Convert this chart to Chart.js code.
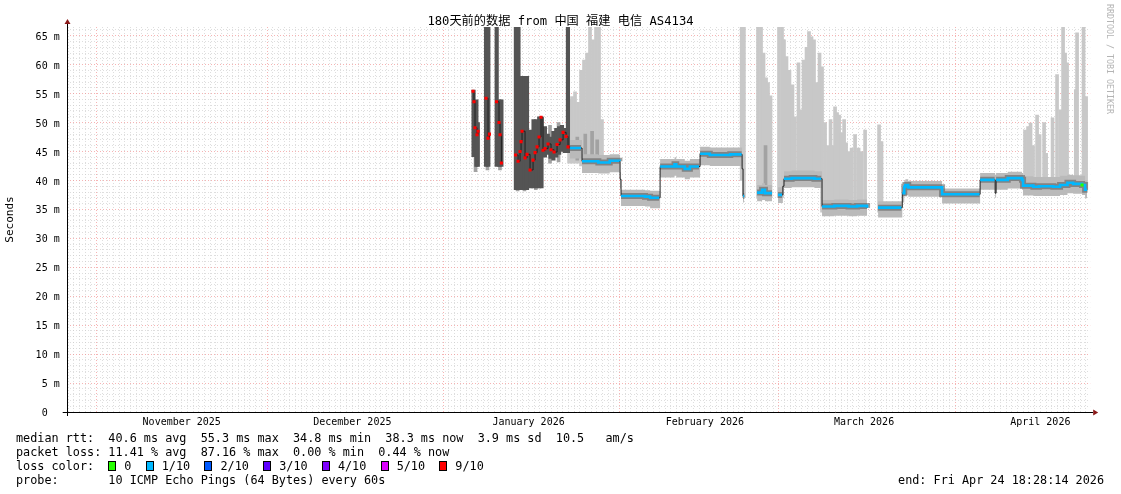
<!DOCTYPE html>
<html><head><meta charset="utf-8">
<script src="https://cdn.jsdelivr.net/npm/chart.js@4.4.1/dist/chart.umd.min.js"></script>
<style>
html,body{margin:0;padding:0;background:#fff;}
#wrap{position:relative;width:1121px;height:494px;overflow:hidden;background:#fff;}
canvas{position:absolute;left:0;top:0;}
.t{position:absolute;font-family:"DejaVu Sans Mono","Noto Sans CJK SC",monospace;color:#000;white-space:pre;}
#title{left:0;width:1121px;text-align:center;top:14px;font-size:12.2px;line-height:14px;}
#foot{left:16px;top:431px;font-size:11.8px;line-height:14px;}
#end{right:17px;top:473px;font-size:11.8px;line-height:14px;}
#wm{left:1105px;top:4px;font-size:8.3px;line-height:9px;color:#b4b4b4;writing-mode:vertical-rl;}
.box{display:inline-block;width:6px;height:8px;border:1px solid #000;vertical-align:-1px;margin-right:8px;}
.gap{display:inline-block;width:14.3px;}
</style></head>
<body>
<div id="wrap">
<canvas id="c" width="1121" height="494"></canvas>
<div class="t" id="title">180天前的数据 from 中国 福建 电信 AS4134</div>
<div class="t" id="wm">RRDTOOL / TOBI OETIKER</div>
<div class="t" id="foot"></div>
<div class="t" id="end">end: Fri Apr 24 18:28:14 2026</div>
</div>
<script>
// ---- time axis: days since window start (Oct 26 2025 18:28:14) ----
const firstMidnight = 0.2304;
const monthStartDays = [5, 35, 66, 97, 125, 156];
const monthLabelDays = [20.23, 50.23, 81.23, 112.23, 140.23, 171.23];
const monthLabels = ['November 2025','December 2025','January 2026','February 2026','March 2026','April 2026'];
const yTickMax = 66;

// ---- median rtt (ms), loss bucket, smoke band ----
const medT = [71.46,71.63,71.81,72.16,72.34,72.60,73.75,74.10,74.35,74.60,75.60,76.03,76.21,76.45,76.70,
 78.95,79.38,79.73,79.91,80.08,80.61,80.96,81.49,82.02,82.37,82.72,83.07,83.42,83.77,84.13,84.65,85.18,85.71,86.24,86.77,87.30,87.83,88.17,
 88.52,90.45,90.63,93.50,95.50,97.20,97.32,97.49,101.70,102.60,104.20,104.36,106.90,107.20,108.70,109.60,111.20,111.39,113.10,116.70,118.70,118.78,118.95,119.15,119.30,
 121.41,122.30,122.80,124.04,124.10,125.09,125.80,125.95,126.15,127.50,129.50,131.50,132.70,132.84,135.00,137.50,139.00,140.76,140.93,
 142.69,146.80,146.95,147.30,147.50,148.00,153.85,153.95,160.55,160.64,163.20,163.28,163.45,165.50,168.00,168.19,170.00,171.00,173.50,174.70,176.00,177.00,178.57,178.75,179.10,179.45];
const medV = [55.4,53.6,49.1,47.9,48.5,null,54.2,47.3,48.0,null,53.6,50.0,47.9,43.0,null,
 44.4,43.3,45.0,46.7,48.5,43.9,44.5,41.8,43.5,44.8,45.8,47.5,50.9,45.2,45.5,46.3,45.3,44.9,46.2,47.0,48.3,47.6,45.8,
 45.6,45.6,43.3,43.1,43.4,43.3,40.2,37.3,37.2,37.0,37.0,42.4,42.8,42.4,42.0,42.4,42.4,44.6,44.4,44.5,44.5,42.0,37.3,37.3,null,
 37.9,38.4,37.8,37.8,null,37.5,37.5,39.0,40.3,40.4,40.4,40.3,40.3,35.5,35.6,35.5,35.6,35.3,null,
 35.3,35.3,37.8,38.9,39.2,38.8,38.8,37.6,37.6,40.1,40.1,37.8,40.1,40.4,40.1,39.1,38.9,39.0,38.9,39.2,39.6,39.4,39.2,39.2,38.4,38.4];
const medLoss = [9,9,9,9,9,9,9,9,9,9,9,9,9,9,9,
 9,9,9,9,9,9,9,9,9,9,9,9,9,9,9,9,9,9,9,9,9,9,9,
 1,1,1,1,1,1,1,1,1,1,1,1,1,1,1,1,1,1,1,1,1,1,1,1,1,
 1,1,1,1,1,1,1,1,1,1,1,1,1,1,1,1,1,1,1,
 1,1,1,1,1,1,1,1,1,1,1,1,1,1,1,1,1,1,1,1,1,1,0,1,1,1];
const bandLo = [null,null,null,null,null,null,null,null,null,null,null,null,null,null,null,
 null,null,null,null,null,null,null,null,null,null,null,null,null,null,null,null,null,null,null,null,null,null,null,
 43.8,43.8,41.3,41.2,41.4,41.3,38.6,35.6,35.5,35.2,35.2,40.5,40.8,40.5,40.2,40.5,40.5,42.6,42.5,42.5,42.5,40.0,36.2,36.2,null,
 36.4,36.6,36.4,36.4,null,36.1,36.1,37.5,38.7,38.8,38.8,38.7,38.7,33.8,33.9,33.8,33.9,33.8,null,
 33.6,33.6,36.2,37.3,37.5,37.2,37.2,36.0,36.0,38.4,38.4,37.0,38.4,38.6,38.4,37.4,37.3,37.3,37.3,37.5,37.8,37.7,37.5,37.5,36.9,36.9];
const bandHi = [null,null,null,null,null,null,null,null,null,null,null,null,null,null,null,
 null,null,null,null,null,null,null,null,null,null,null,null,null,null,null,null,null,null,null,null,null,null,null,
 47.0,47.0,44.5,44.4,44.5,44.4,41.4,38.4,38.3,38.2,38.2,43.7,44.0,43.7,43.4,43.7,43.7,45.8,45.7,45.7,45.7,43.5,38.5,38.5,null,
 39.2,39.5,39.2,39.2,null,38.8,38.8,40.2,41.6,41.7,41.7,41.6,41.6,36.6,36.7,36.6,36.7,36.5,null,
 36.4,36.4,38.8,40.0,40.2,39.9,39.9,38.6,38.6,41.3,41.3,41.0,41.3,41.5,41.3,40.7,40.6,40.6,40.6,40.8,41.0,40.9,40.8,40.8,40.0,40.0];

// ---- outlier smoke spikes (ms) ----
const spikeT = [88.35,88.87,89.40,89.93,90.46,90.98,91.51,92.03,92.56,93.09,93.62,94.14,
 118.70,119.10,121.58,122.11,122.55,122.99,123.34,123.78,
 125.27,125.80,126.15,126.59,127.11,127.64,128.08,128.70,129.14,129.58,130.11,130.55,130.99,131.43,131.87,132.40,132.84,
 133.37,133.90,134.34,134.69,135.13,135.48,135.84,136.28,136.72,137.07,137.51,138.04,138.65,139.27,139.80,140.41,
 142.87,143.30,
 168.54,169.07,169.51,169.95,170.66,171.10,171.89,172.25,173.38,174.17,174.79,175.23,175.58,175.93,177.47,177.69,178.83,179.28];
const spikeLo = [43.0,43.0,43.0,43.0,42.5,42.0,42.0,42.0,42.0,42.0,42.0,42.0,
 40.0,37.0,37.0,37.0,37.0,37.0,37.0,37.0,
 37.0,37.0,39.0,39.0,39.0,39.0,39.0,39.0,39.0,39.0,39.0,39.0,39.0,39.0,39.0,39.0,34.5,
 34.5,34.5,34.5,34.5,34.5,34.5,34.5,34.5,34.5,34.5,34.5,34.5,34.5,34.5,34.5,34.5,
 34.5,34.5,
 38.0,38.0,38.0,38.0,38.0,38.0,38.0,38.0,38.0,38.0,38.0,38.0,38.0,38.0,38.0,38.0,38.0,38.0];
const spikeHi = [54.0,54.5,55.3,53.5,59.0,60.8,62.0,66.5,64.3,66.5,66.5,50.5,
 66.5,66.5,66.5,66.5,62.0,57.7,56.9,54.6,
 66.5,66.5,64.3,61.4,59.0,56.5,51.0,60.3,52.2,60.8,63.0,65.7,64.8,64.3,56.9,62.0,59.6,
 50.0,46.0,50.5,46.0,52.7,51.7,51.3,48.2,50.5,46.5,45.0,45.6,47.9,45.6,45.0,48.7,
 49.6,46.7,
 48.7,49.3,49.9,46.0,51.3,47.9,50.0,44.7,50.8,58.3,52.2,66.5,62.0,60.3,55.7,65.5,66.5,54.5];

// ---- mid-grey smoke in the lossy period and a few denser outliers (ms) ----
const midT = [71.9,74.0,76.2,79.3,80.5,82.5,85.0,86.5,89.8,91.2,92.4,93.3,122.9];
const midLo = [41.5,41.8,41.8,38.2,38.2,38.4,43.0,43.2,43.5,43.0,43.0,43.0,37.5];
const midHi = [52.0,50.0,50.0,50.0,50.0,49.0,49.5,50.0,47.5,48.0,48.5,47.0,46.0];

// ---- high-loss period smoke (ms) ----
const darkT = [71.55,72.05,72.30,73.75,74.15,75.62,76.10,76.45,79.00,79.45,79.95,80.45,80.95,81.60,82.10,82.60,83.10,83.50,
 84.10,84.60,85.10,85.60,86.10,86.60,87.10,87.60,88.15];
const darkLo = [44.1,42.4,42.4,42.4,42.4,42.4,42.4,42.4,38.4,38.4,38.4,38.4,38.4,38.7,38.7,38.7,38.7,38.7,
 44.0,44.5,43.8,43.5,44.0,44.5,45.0,44.8,44.8];
const darkHi = [55.6,53.9,50.0,66.5,66.5,66.5,53.9,53.9,66.5,66.5,58.0,58.0,58.0,48.7,50.5,50.5,51.0,51.0,
 49.3,48.0,47.5,48.5,49.0,49.3,49.5,49.0,66.5];

const lossColors = {0:'#26ff00',1:'#00b8ff',2:'#0059ff',3:'#5e00ff',4:'#7e00ff',5:'#dd00ff',9:'#ff0000'};
const legendItems = [['0',0],['1/10',1],['2/10',2],['3/10',3],['4/10',4],['5/10',5],['9/10',9]];

// ---- footer text ----
const foot = document.getElementById('foot');
let html = 'median rtt:  40.6 ms avg  55.3 ms max  34.8 ms min  38.3 ms now  3.9 ms sd  10.5   am/s\n';
html += 'packet loss: 11.41 % avg  87.16 % max  0.00 % min  0.44 % now\n';
html += 'loss color:  ' + legendItems.map(([l,k],i)=>'<span class="box" style="background:'+lossColors[k]+'"></span>'+l+(i<legendItems.length-1?'<span class="gap"></span>':'')).join('') + '\n';
html += 'probe:       10 ICMP Echo Pings (64 Bytes) every 60s';
foot.innerHTML = html;

// ---- ticks ----
const xTicks = [];
for (let k = 0; k < 180; k++) {
  const isMonth = monthStartDays.includes(k);
  xTicks.push({value: firstMidnight + k, kind: isMonth ? 'month' : 'day', text: ''});
}
monthLabelDays.forEach((d,i)=>xTicks.push({value:d, kind:'label', text:monthLabels[i]}));
xTicks.sort((a,b)=>a.value-b.value);
const yTicks = [];
for (let v = 0; v <= yTickMax; v++) yTicks.push({value:v});

const MINOR = 'rgba(200,200,200,0.6)';
const MAJOR = 'rgba(240,130,130,0.6)';
const CLEAR = 'rgba(0,0,0,0)';

const pts = ys => medT.map((t,i)=>({x:t, y:ys[i]}));
const jump = c => c.p0.parsed.y == null || c.p1.parsed.y == null || Math.abs(c.p1.parsed.y - c.p0.parsed.y) > 1.2;

const axesPlugin = {
  id:'axesArrows',
  afterDatasetsDraw(chart){
    const {ctx, chartArea:a} = chart;
    ctx.save();
    ctx.strokeStyle = '#000'; ctx.lineWidth = 1;
    const yb = Math.round(a.bottom) + 0.5, xl = Math.round(a.left) + 0.5;
    ctx.beginPath(); ctx.moveTo(a.left - 4, yb); ctx.lineTo(a.right + 3, yb); ctx.stroke();
    ctx.beginPath(); ctx.moveTo(xl, a.bottom + 4); ctx.lineTo(xl, a.top - 3); ctx.stroke();
    ctx.fillStyle = '#8b1a1a';
    ctx.beginPath(); ctx.moveTo(a.right + 3, yb - 3); ctx.lineTo(a.right + 8, yb); ctx.lineTo(a.right + 3, yb + 3); ctx.closePath(); ctx.fill();
    ctx.beginPath(); ctx.moveTo(xl - 3, a.top - 3); ctx.lineTo(xl, a.top - 8); ctx.lineTo(xl + 3, a.top - 3); ctx.closePath(); ctx.fill();
    ctx.restore();
  }
};

Chart.defaults.font.family = "'DejaVu Sans Mono', monospace";

new Chart(document.getElementById('c'), {
  type: 'line',
  data: { datasets: [
    { type:'bar', label:'outliers', data: spikeT.map((t,i)=>({x:t, y:[spikeLo[i], spikeHi[i]]})),
      backgroundColor:'#c8c8c8', borderWidth:0, barThickness:3, grouped:false, order:21 },
    { type:'bar', label:'mid', data: midT.map((t,i)=>({x:t, y:[midLo[i], midHi[i]]})),
      backgroundColor:'#a2a2a2', borderWidth:0, barThickness:3, grouped:false, order:20 },
    { type:'bar', label:'lossy', data: darkT.map((t,i)=>({x:t, y:[darkLo[i], darkHi[i]]})),
      backgroundColor:'#545454', borderWidth:0, barThickness:3.5, grouped:false, order:19 },
    { label:'bandLo', data: pts(bandLo), stepped:true, borderWidth:0, pointRadius:0, fill:false, spanGaps:false, order:18 },
    { label:'bandHi', data: pts(bandHi), stepped:true, borderWidth:0, pointRadius:0, fill:'-1', backgroundColor:'#bababa', spanGaps:false, order:17 },
    { label:'core', data: pts(medV), stepped:true, borderWidth:6, pointRadius:0, spanGaps:false, order:16,
      borderColor:'rgba(95,95,95,0.6)',
      segment:{ borderColor: c => (jump(c) || medLoss[c.p0DataIndex] === 9) ? CLEAR : 'rgba(95,95,95,0.6)' } },
    { label:'median', data: pts(medV), stepped:true, borderWidth:1, borderColor:'#202020', pointRadius:0, spanGaps:false, order:15 },
    { label:'medianLoss', data: pts(medV), stepped:true, borderWidth:2.6, pointRadius: c => (medLoss[c.dataIndex] === 9 || medLoss[c.dataIndex] === 0) ? 2.2 : 0,
      pointStyle:'rect', pointBorderWidth:0, pointBackgroundColor: c => lossColors[medLoss[c.dataIndex]],
      borderColor:'#00b8ff', spanGaps:false, order:14,
      segment:{ borderColor: c => (jump(c) || medLoss[c.p0DataIndex] === 9) ? CLEAR : lossColors[medLoss[c.p0DataIndex]] } }
  ]},
  options: {
    responsive:false, maintainAspectRatio:false, animation:false, devicePixelRatio:1, events:[],
    layout:{ padding:{ left:0, right:30.8, top:27, bottom:0 } },
    plugins:{ legend:{display:false}, tooltip:{enabled:false}, title:{display:false} },
    scales:{
      x:{ type:'linear', min:0, max:180, offset:false,
        afterBuildTicks: s => { s.ticks = xTicks.map(o=>Object.assign({}, o)); },
        afterFit: s => { s.height = 82; },
        grid:{ offset:false, drawTicks:false, lineWidth:1,
          color: c => !c.tick ? CLEAR : (c.tick.kind === 'label' ? CLEAR : (c.tick.kind === 'month' ? MAJOR : MINOR)) },
        border:{ display:false, dash:[1,2] },
        ticks:{ autoSkip:false, maxRotation:0, minRotation:0, padding:4, color:'#000', font:{size:10},
          callback: (v,i,ts) => ts[i] && ts[i].kind === 'label' ? ts[i].text : '' } },
      y:{ type:'linear', min:0, max:66.5,
        afterBuildTicks: s => { s.ticks = yTicks.map(o=>Object.assign({}, o)); },
        afterFit: s => { s.width = 66.7; },
        grid:{ drawTicks:false, lineWidth:1, color: c => !c.tick ? CLEAR : (c.tick.value % 5 === 0 ? MAJOR : MINOR) },
        border:{ display:false, dash:[1,2] },
        ticks:{ autoSkip:false, padding:7, labelOffset:1.5, color:'#000', font:{size:10},
          callback: v => v % 5 !== 0 ? '' : (v === 0 ? '0  ' : v + ' m') },
        title:{ display:true, text:'Seconds', color:'#000', font:{size:11}, padding:{top:4,bottom:0} } }
    }
  },
  plugins:[axesPlugin]
});
</script>
</body></html>
